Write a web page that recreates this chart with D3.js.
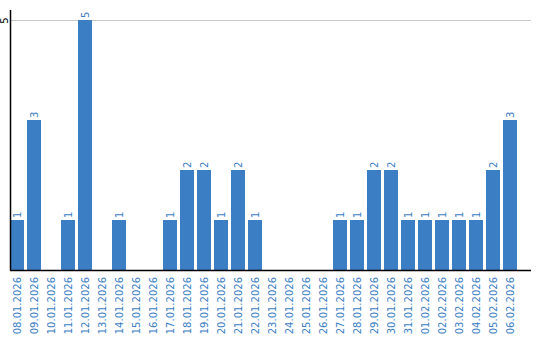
<!DOCTYPE html>
<html><head><meta charset="utf-8">
<script src="https://cdn.jsdelivr.net/npm/d3@7"></script>
<style>body{margin:0;background:#fff}svg{display:block}</style>
</head><body>
<svg id="c" width="540" height="340"></svg>
<script>
const categories = ["08.01.2026","09.01.2026","10.01.2026","11.01.2026","12.01.2026","13.01.2026","14.01.2026","15.01.2026","16.01.2026","17.01.2026","18.01.2026","19.01.2026","20.01.2026","21.01.2026","22.01.2026","23.01.2026","24.01.2026","25.01.2026","26.01.2026","27.01.2026","28.01.2026","29.01.2026","30.01.2026","31.01.2026","01.02.2026","02.02.2026","03.02.2026","04.02.2026","05.02.2026","06.02.2026"];
const values = [1,3,0,1,5,0,1,0,0,1,2,2,1,2,1,0,0,0,0,1,1,2,2,1,1,1,1,1,2,3];
const yTicks = [5];

const svg = d3.select("#c");
const font = "DejaVu Sans, sans-serif";
const blue = "#3b7ec3";
const x = d3.scaleBand().domain(categories).range([10, 520]).paddingInner(3/17).paddingOuter(3/34).align(0);
const y = d3.scaleLinear().domain([0, 5]).range([270, 20]);

// gridlines
svg.append("g").selectAll("line").data(yTicks).join("line")
  .attr("x1", 10).attr("x2", 531).attr("y1", d => y(d)).attr("y2", d => y(d))
  .attr("stroke", "#c8c8c8").attr("stroke-width", 1).attr("shape-rendering", "crispEdges");

// bars
svg.append("g").selectAll("rect").data(values).join("rect")
  .attr("x", (d, i) => x(categories[i])).attr("width", x.bandwidth())
  .attr("y", d => y(d)).attr("height", d => y(0) - y(d))
  .attr("fill", blue).attr("shape-rendering", "crispEdges");

// value labels
svg.append("g").selectAll("text").data(values.map((v, i) => ({v, i})).filter(d => d.v > 0)).join("text")
  .attr("transform", d => `translate(${x(categories[d.i]) + x.bandwidth()/2},${y(d.v) - 2}) rotate(-90)`)
  .attr("dy", "0.35em").attr("text-anchor", "start")
  .attr("font-family", font).attr("font-size", 10).attr("fill", blue)
  .text(d => d.v);

// x axis
const xa = svg.append("g").attr("transform", "translate(0,270)")
  .call(d3.axisBottom(x).tickSize(0).tickSizeOuter(0));
xa.select(".domain").attr("d", "M10,0.5H531").attr("stroke", "#000").attr("stroke-width", 1.5);
xa.selectAll("text")
  .attr("font-family", font).attr("font-size", 10).attr("fill", blue)
  .attr("text-anchor", "end").attr("transform", "rotate(-90)")
  .attr("x", -7).attr("y", 0).attr("dy", "0.35em");

// y axis
const ya = svg.append("g").attr("transform", "translate(10,0)")
  .call(d3.axisLeft(y).tickValues(yTicks).tickFormat(d3.format("d")).tickSize(0).tickSizeOuter(0));
ya.select(".domain").attr("d", "M0.5,10V270").attr("stroke", "#000").attr("stroke-width", 1.5);
ya.selectAll(".tick text")
  .attr("font-family", font).attr("font-size", 10).attr("fill", "#000")
  .attr("text-anchor", "middle").attr("transform", "rotate(-90)")
  .attr("x", 0).attr("y", -5.5).attr("dy", "0.35em");
</script>
</body></html>
